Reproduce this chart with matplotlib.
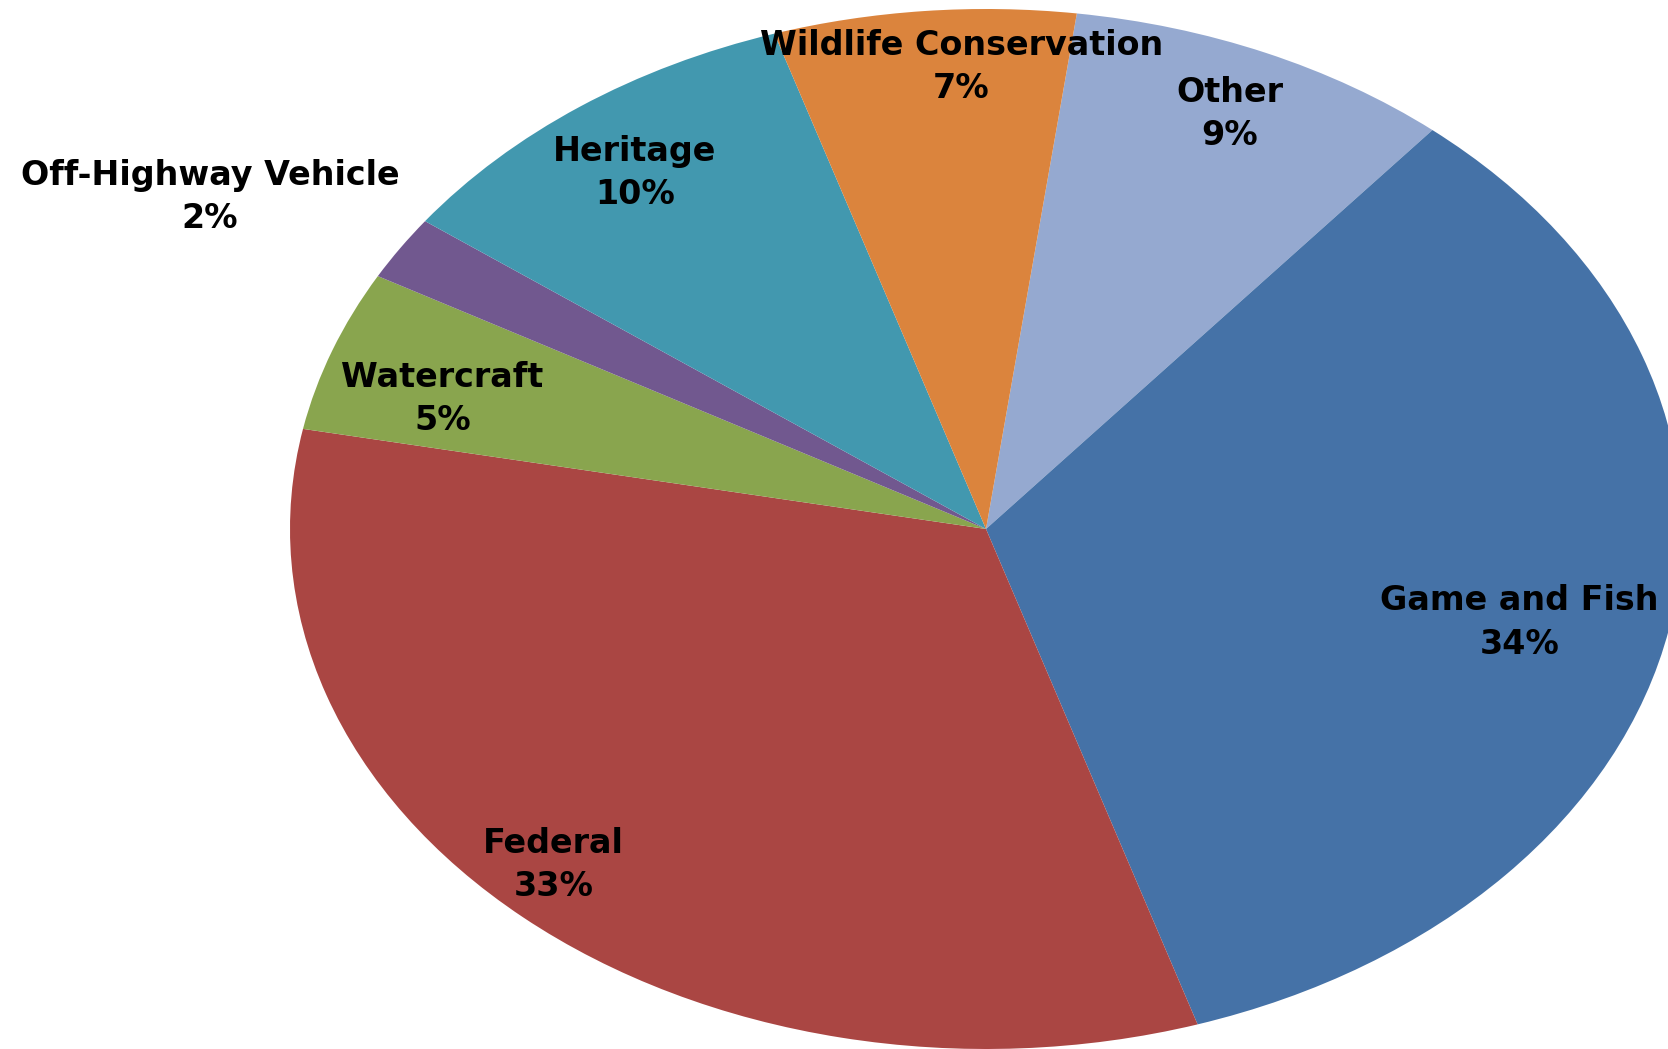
"""Funding share by source, drawn as a stretched pie."""

import matplotlib.pyplot as plt
import numpy as np

# Slices in clockwise order, starting just right of 12 o'clock
sources = ["Other", "Game and Fish", "Federal", "Watercraft",
           "Off-Highway Vehicle", "Heritage", "Wildlife Conservation"]
shares = [9, 34, 33, 5, 2, 10, 7]
colors = ["#95A9D0", "#4572A7", "#AA4643", "#89A54E",
          "#71588F", "#4298AF", "#DB843D"]

# radial distance of each label from the centre (1.0 = rim) and a small angular nudge
label_radius = [0.872, 0.787, 0.896, 0.82, 1.285, 0.85, 0.89]
label_shift_deg = [0, -2.1, -2.2, 2.3, 2.9, 0.7, -2.8]

W, H = 1668, 1049
fig = plt.figure(figsize=(W / 100, H / 100), dpi=100)
ax = fig.add_axes([0, 0, 1, 1])

wedges, _ = ax.pie(shares, colors=colors, startangle=82.5, counterclock=False,
                   radius=1.0, wedgeprops=dict(linewidth=0))

# stretch the pie into an ellipse: centre at (986, 529) px, radii 696 x 520 px
cx, cy, rx, ry = 986, 529, 696, 520
ax.set_aspect("auto")
ax.set_xlim(-cx / rx, (W - cx) / rx)
ax.set_ylim(-(H - cy) / ry, cy / ry)
ax.axis("off")

for wedge, name, pct, r, shift in zip(wedges, sources, shares, label_radius, label_shift_deg):
    mid = np.deg2rad((wedge.theta1 + wedge.theta2) / 2 + shift)
    ax.text(r * np.cos(mid), r * np.sin(mid), f"{name}\n{pct}%",
            ha="center", va="center", fontsize=24, fontweight="bold",
            color="black", linespacing=1.39, family="DejaVu Sans")

fig.savefig("out.png", dpi=100)
